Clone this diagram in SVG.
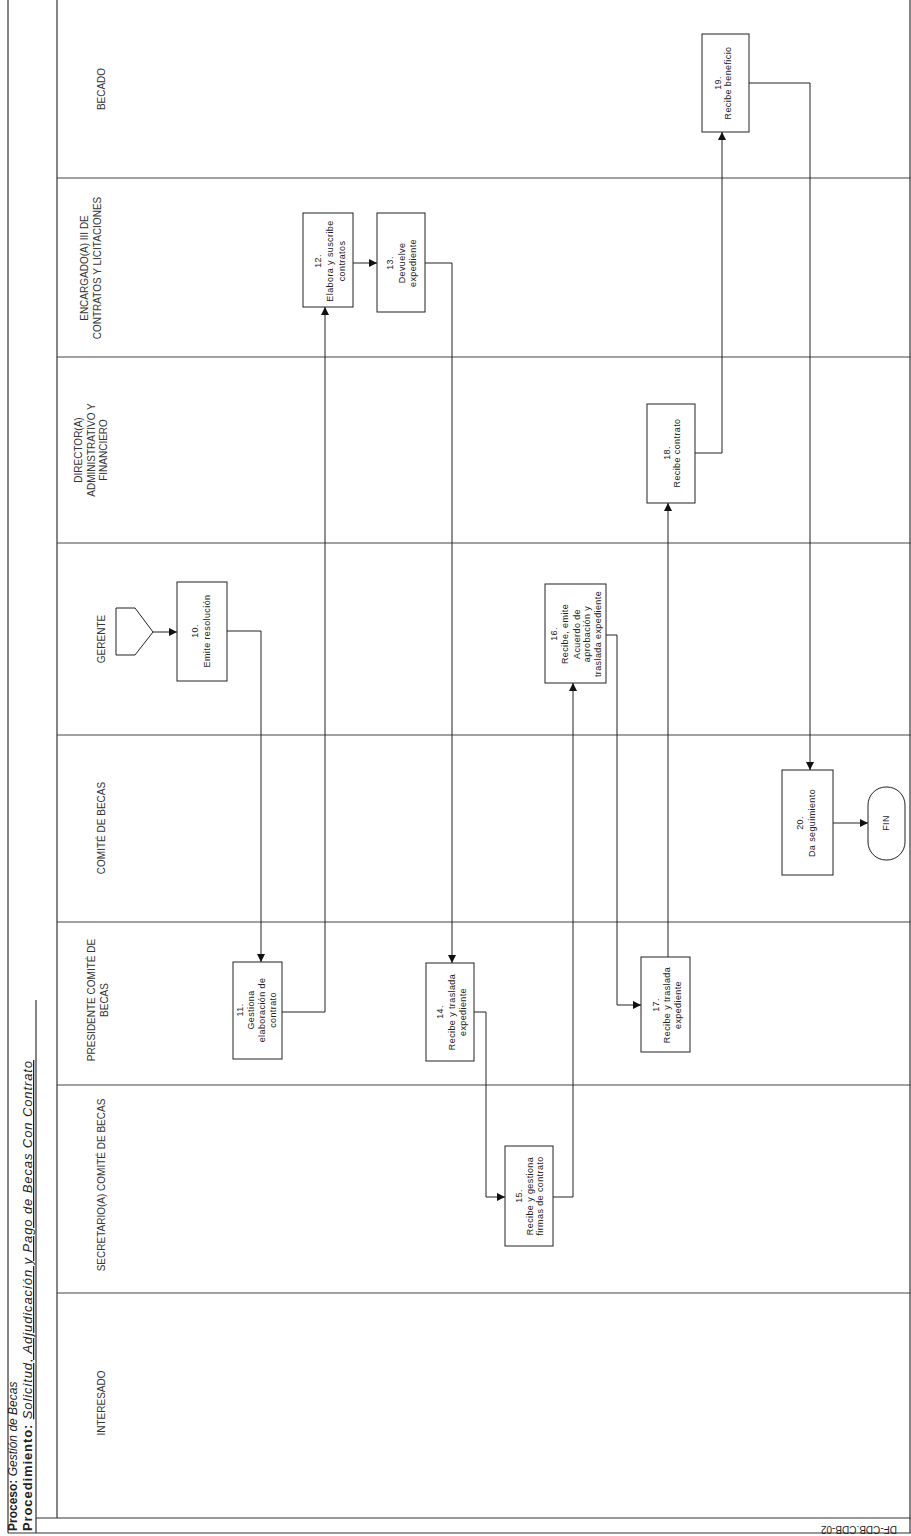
<svg xmlns="http://www.w3.org/2000/svg" width="911" height="1536" viewBox="0 0 911 1536">
<defs>
<marker id="ah" viewBox="0 0 10 10" refX="10" refY="5" markerWidth="8" markerHeight="8" markerUnits="userSpaceOnUse" orient="auto">
<path d="M0,0 L10,5 L0,10 Z" fill="#111"/>
</marker>
</defs>
<style>
.frame{fill:none;stroke:#333;stroke-width:1.2}
.lane{fill:none;stroke:#444;stroke-width:1}
.box{fill:#fff;stroke:#222;stroke-width:1}
.conn{fill:none;stroke:#222;stroke-width:1}
.hd{font-family:"Liberation Sans",Arial,sans-serif;font-size:10px;fill:#333;text-anchor:middle}
.nt{font-family:"Liberation Sans",Arial,sans-serif;font-size:9px;fill:#222;text-anchor:middle;letter-spacing:0.4px}
.tt{font-family:"Liberation Sans",Arial,sans-serif;fill:#222}
</style>
<rect width="911" height="1536" fill="#fff"/>
<g id="frame">
<line class="frame" x1="8" y1="0" x2="8" y2="1533"/>
<line class="frame" x1="57" y1="0" x2="57" y2="1518"/>
<line class="frame" x1="36" y1="1000" x2="36" y2="1533"/>
<line class="frame" x1="36" y1="1518" x2="911" y2="1518"/>
<line class="frame" x1="8" y1="1533" x2="911" y2="1533"/>
<line class="frame" x1="910" y1="0" x2="910" y2="1533"/>
</g>
<g id="lanes">
<line class="lane" x1="57" y1="178" x2="911" y2="178"/>
<line class="lane" x1="57" y1="357" x2="911" y2="357"/>
<line class="lane" x1="57" y1="543" x2="911" y2="543"/>
<line class="lane" x1="57" y1="735" x2="911" y2="735"/>
<line class="lane" x1="57" y1="922" x2="911" y2="922"/>
<line class="lane" x1="57" y1="1085" x2="911" y2="1085"/>
<line class="lane" x1="57" y1="1293" x2="911" y2="1293"/>
</g>
<g id="title">
<text class="tt" font-size="12" transform="translate(17,1531) rotate(-90)"><tspan font-weight="bold">Proceso: </tspan><tspan font-style="italic">Gestión de Becas</tspan></text>
<text class="tt" font-size="13" letter-spacing="0.9" transform="translate(32,1531) rotate(-90)"><tspan font-weight="bold">Procedimiento: </tspan><tspan font-style="italic" text-decoration="underline">Solicitud, Adjudicación y Pago de Becas Con Contrato</tspan></text>
<text class="tt" font-size="10" transform="translate(897,1526) rotate(180)">DF-CDB.CDB-02</text>
</g>
<g id="headers">
<text class="hd" transform="translate(101,89) rotate(-90)"><tspan x="0" y="3.5">BECADO</tspan></text>
<text class="hd" transform="translate(91,268) rotate(-90)"><tspan x="0" y="-3">ENCARGADO(A) III DE</tspan><tspan x="0" y="9.5">CONTRATOS Y LICITACIONES</tspan></text>
<text class="hd" transform="translate(91,450) rotate(-90)"><tspan x="0" y="-9">DIRECTOR(A)</tspan><tspan x="0" y="3.5">ADMINISTRATIVO Y</tspan><tspan x="0" y="16">FINANCIERO</tspan></text>
<text class="hd" transform="translate(101,639) rotate(-90)"><tspan x="0" y="3.5">GERENTE</tspan></text>
<text class="hd" transform="translate(101,828) rotate(-90)"><tspan x="0" y="3.5">COMITÉ DE BECAS</tspan></text>
<text class="hd" transform="translate(98,1000) rotate(-90)"><tspan x="0" y="-3">PRESIDENTE COMITÉ DE</tspan><tspan x="0" y="9.5">BECAS</tspan></text>
<text class="hd" transform="translate(101,1185) rotate(-90)"><tspan x="0" y="3.5">SECRETARIO(A) COMITÉ DE BECAS</tspan></text>
<text class="hd" transform="translate(101,1403) rotate(-90)"><tspan x="0" y="3.5">INTERESADO</tspan></text>
</g>
<g id="start">
<path class="box" d="M116,608 L135,608 L153,632 L135,655 L116,655 Z"/>
</g>
<g id="n10">
<rect class="box" x="177" y="582" width="50" height="99"/>
<text class="nt" transform="translate(202,631) rotate(-90)"><tspan x="0" y="-4">10.</tspan><tspan x="0" y="8">Emite resolución</tspan></text>
</g>
<g id="n11">
<rect class="box" x="233" y="962" width="49" height="97"/>
<text class="nt" transform="translate(257,1010) rotate(-90)"><tspan x="0" y="-14">11.</tspan><tspan x="0" y="-3">Gestiona</tspan><tspan x="0" y="8">elaboración de</tspan><tspan x="0" y="19">contrato</tspan></text>
</g>
<g id="n12">
<rect class="box" x="303" y="213" width="50" height="94"/>
<text class="nt" transform="translate(328,261) rotate(-90)"><tspan x="0" y="-7">12.</tspan><tspan x="0" y="5">Elabora y suscribe</tspan><tspan x="0" y="17">contratos</tspan></text>
</g>
<g id="n13">
<rect class="box" x="377" y="213" width="48" height="99"/>
<text class="nt" transform="translate(401,263) rotate(-90)"><tspan x="0" y="-8">13.</tspan><tspan x="0" y="4">Devuelve</tspan><tspan x="0" y="15">expediente</tspan></text>
</g>
<g id="n14">
<rect class="box" x="426" y="963" width="48" height="98"/>
<text class="nt" transform="translate(450,1012) rotate(-90)"><tspan x="0" y="-7">14.</tspan><tspan x="0" y="5">Recibe y traslada</tspan><tspan x="0" y="16">expediente</tspan></text>
</g>
<g id="n15">
<rect class="box" x="505" y="1146" width="48" height="100"/>
<text class="nt" transform="translate(529,1196) rotate(-90)"><tspan x="0" y="-7">15.</tspan><tspan x="0" y="4">Recibe y gestiona</tspan><tspan x="0" y="14">firmas de contrato</tspan></text>
</g>
<g id="n16">
<rect class="box" x="545" y="584" width="61" height="99"/>
<text class="nt" transform="translate(575,634) rotate(-90)"><tspan x="0" y="-18">16.</tspan><tspan x="0" y="-7">Recibe, emite</tspan><tspan x="0" y="5">Acuerdo de</tspan><tspan x="0" y="15">aprobación y</tspan><tspan x="0" y="26">traslada expediente</tspan></text>
</g>
<g id="n17">
<rect class="box" x="641" y="957" width="49" height="95"/>
<text class="nt" transform="translate(665,1005) rotate(-90)"><tspan x="0" y="-6">17.</tspan><tspan x="0" y="5">Recibe y traslada</tspan><tspan x="0" y="16">expediente</tspan></text>
</g>
<g id="n18">
<rect class="box" x="647" y="404" width="48" height="99"/>
<text class="nt" transform="translate(671,453) rotate(-90)"><tspan x="0" y="-1">18.</tspan><tspan x="0" y="9">Recibe contrato</tspan></text>
</g>
<g id="n19">
<rect class="box" x="702" y="34" width="47" height="98"/>
<text class="nt" transform="translate(725,83) rotate(-90)"><tspan x="0" y="-4">19.</tspan><tspan x="0" y="6">Recibe beneficio</tspan></text>
</g>
<g id="n20">
<rect class="box" x="782" y="770" width="51" height="105"/>
<text class="nt" transform="translate(807,823) rotate(-90)"><tspan x="0" y="-4">20.</tspan><tspan x="0" y="8">Da seguimiento</tspan></text>
</g>
<g id="fin">
<rect class="box" x="868" y="787" width="37" height="73" rx="18" ry="18"/>
<text class="nt" transform="translate(886,823) rotate(-90)"><tspan x="0" y="3">FIN</tspan></text>
</g>
<g id="connectors">
<path class="conn" d="M153,632 H177" marker-end="url(#ah)"/>
<path class="conn" d="M227,631 H261 V962" marker-end="url(#ah)"/>
<path class="conn" d="M282,1012 H325 V307" marker-end="url(#ah)"/>
<path class="conn" d="M353,263 H377" marker-end="url(#ah)"/>
<path class="conn" d="M425,263 H452 V963" marker-end="url(#ah)"/>
<path class="conn" d="M474,1012 H486 V1197 H505" marker-end="url(#ah)"/>
<path class="conn" d="M553,1197 H573 V683" marker-end="url(#ah)"/>
<path class="conn" d="M606,635 H617 V1005 H641" marker-end="url(#ah)"/>
<path class="conn" d="M668,957 V503" marker-end="url(#ah)"/>
<path class="conn" d="M695,453 H722 V132" marker-end="url(#ah)"/>
<path class="conn" d="M749,83 H810 V770" marker-end="url(#ah)"/>
<path class="conn" d="M833,823 H868" marker-end="url(#ah)"/>
</g>
</svg>
